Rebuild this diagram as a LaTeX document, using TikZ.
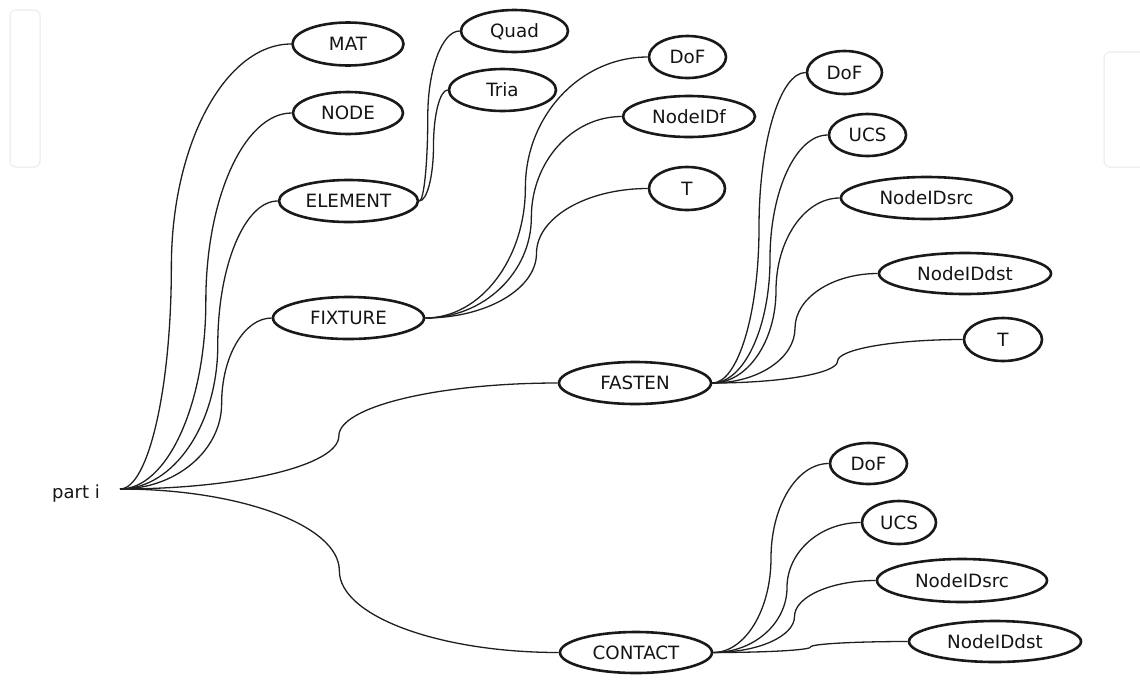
\documentclass[tikz,border=0pt]{standalone}
\usepackage{fontspec}
\setmainfont{DejaVu Sans}
\usetikzlibrary{shapes.geometric,calc}
\tikzset{
  oval/.style 2 args={ellipse, draw=black!90, line width=2.6pt, inner sep=0pt,
    minimum width=#1pt, minimum height=#2pt,
    font=\fontsize{18.3}{22}\selectfont, text height=13.3pt, text depth=0pt, text=black!92},
  edge/.style={draw=black!88, line width=1.3pt},
  wmark/.style={draw=black!6, line width=1.5pt, rounded corners=6pt},
}
\newcommand\kfac{0.55}
\newcommand\linkit[4]{%
  \draw[edge] let \p1=(#1.east), \p4=(#2.west),
    \p2=({\x1+#3*(\x4-\x1)},{\y1+#4*(\y4-\y1)}) in
    (\p1) .. controls ({\x1+\kfac*(\x2-\x1)},\y1) and (\x2,{\y2+\kfac*(\y1-\y2)}) .. (\p2)
    .. controls (\x2,{\y2+\kfac*(\y4-\y2)}) and ({\x4-\kfac*(\x4-\x2)},\y4) .. (\p4);}
\begin{document}
\begin{tikzpicture}[x=1pt,y=-1pt]
\useasboundingbox (0,0) rectangle (1140,681);
% faint watermark outlines
\draw[wmark] (10,10) rectangle (40,167);
\draw[wmark] (1150,52) -- (1104,52) -- (1104,167) -- (1150,167);
% root
\node[font=\fontsize{18}{22}\selectfont, text=black!92, inner xsep=20pt, inner ysep=0pt,
  text height=18pt, text depth=0pt, anchor=east] (root) at (120,489) {part i};
% first level
\node[oval={111}{43}] (mat) at (348,44) {MAT};
\node[oval={110}{42}] (nnode) at (348,113) {NODE};
\node[oval={139}{42}] (element) at (348.5,201) {ELEMENT};
\node[oval={151}{42}] (fixture) at (348.5,318) {FIXTURE};
\node[oval={152}{42}] (fasten) at (635,383) {FASTEN};
\node[oval={152}{41}] (contact) at (636,652.5) {CONTACT};
% element children
\node[oval={107}{42}] (quad) at (514.5,31) {Quad};
\node[oval={107}{42}] (tria) at (502.5,90) {Tria};
% fixture children
\node[oval={77}{42}] (dofa) at (687.5,57) {DoF};
\node[oval={132}{41}] (nidf) at (689,116.5) {NodeIDf};
\node[oval={76}{43}] (ta) at (687,188.5) {T};
% fasten children
\node[oval={75}{43}] (dofb) at (844.5,72.5) {DoF};
\node[oval={77}{42}] (ucsb) at (867.5,135) {UCS};
\node[oval={171}{42}] (srcb) at (926.5,198) {NodeIDsrc};
\node[oval={172}{41}] (dstb) at (965,273.5) {NodeIDdst};
\node[oval={78}{43}] (tb) at (1003,339.5) {T};
% contact children
\node[oval={77}{41}] (dofc) at (868.5,463.5) {DoF};
\node[oval={74}{43}] (ucsc) at (899,522.5) {UCS};
\node[oval={170}{43}] (srcc) at (962,580.5) {NodeIDsrc};
\node[oval={172}{41}] (dstc) at (995,641.5) {NodeIDdst};
% connectors
\linkit{root}{mat}{0.30}{0.5}
\linkit{root}{nnode}{0.5}{0.5}
\linkit{root}{element}{0.62}{0.5}
\linkit{root}{fixture}{0.67}{0.5}
\linkit{root}{fasten}{0.5}{0.5}
\linkit{root}{contact}{0.5}{0.5}
\linkit{element}{quad}{0.21}{0.5}
\linkit{element}{tria}{0.5}{0.5}
\linkit{fixture}{dofa}{0.45}{0.5}
\linkit{fixture}{nidf}{0.54}{0.5}
\linkit{fixture}{ta}{0.5}{0.5}
\linkit{fasten}{dofb}{0.5}{0.5}
\linkit{fasten}{ucsb}{0.5}{0.5}
\linkit{fasten}{srcb}{0.5}{0.5}
\linkit{fasten}{dstb}{0.5}{0.5}
\linkit{fasten}{tb}{0.5}{0.5}
\linkit{contact}{dofc}{0.5}{0.5}
\linkit{contact}{ucsc}{0.5}{0.5}
\linkit{contact}{srcc}{0.5}{0.5}
\linkit{contact}{dstc}{0.5}{0.5}
\end{tikzpicture}
\end{document}
